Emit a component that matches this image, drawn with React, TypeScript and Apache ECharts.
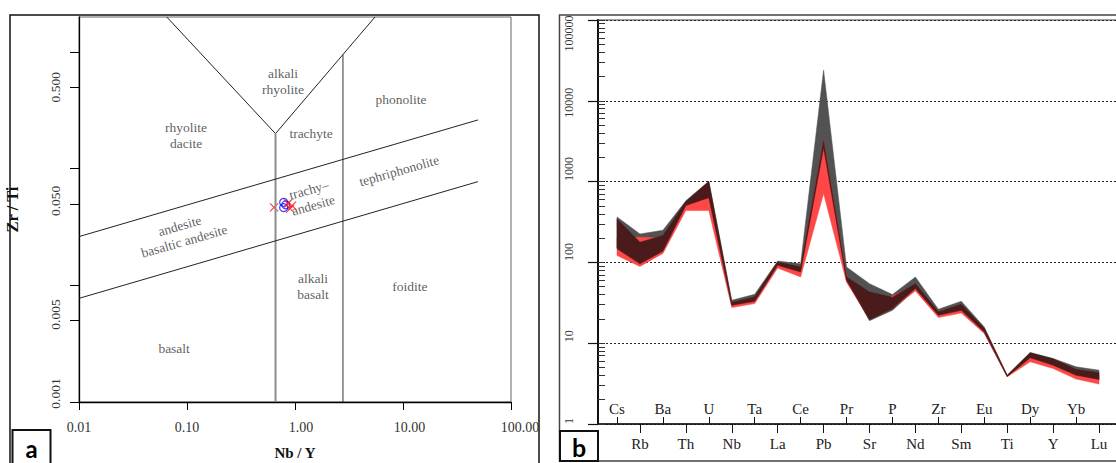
import React, { useEffect, useRef } from "react";
import * as echarts from "echarts";

// ---------- Panel a : Zr/Ti vs Nb/Y (Pearce 1996) ----------
const nbyTickValues = [0.01, 0.1, 1, 10, 100];
const zrtiTickValues = [0.001, 0.005, 0.01, 0.05, 0.1, 0.5, 1];
const zrtiLabelValues = [0.001, 0.005, 0.05, 0.5];

const apexLines = [[0.065, 2], [0.66, 0.2], [5.5, 2]];
const alkaliDivide = [[0.66, 0.2], [0.66, 0.001]];
const foiditeDivide = [[2.78, 0.952], [2.78, 0.001]];
const upperSlope = [[0.01, 0.0262], [49.4, 0.262]];
const lowerSlope = [[0.01, 0.00774], [49.4, 0.0775]];

const fieldNames = [
  "alkali\nrhyolite", "rhyolite\ndacite", "trachyte", "phonolite", "tephriphonolite",
  "trachy–\nandesite", "andesite\nbasaltic andesite", "alkali\nbasalt", "foidite", "basalt",
];
const fieldX = [0.774, 0.098, 1.41, 9.6, 9.2, 1.41, 0.09, 1.47, 11.6, 0.076];
const fieldY = [0.565, 0.191, 0.199, 0.389, 0.096, 0.0565, 0.0278, 0.0098, 0.0097, 0.0029];
const fieldRotate = [0, 0, 0, 0, 16, 16, 16, 0, 0, 0];

const redSamplesNbY = [0.64, 0.86, 0.9, 0.94];
const redSamplesZrTi = [0.0467, 0.0503, 0.0455, 0.0483];
const blueSamplesNbY = [0.785, 0.785, 0.82];
const blueSamplesZrTi = [0.0515, 0.0464, 0.049];

// ---------- Panel b : spider diagram ----------
const elements = ["Cs", "Rb", "Ba", "Th", "U", "Nb", "Ta", "La", "Ce", "Pb", "Pr",
  "Sr", "P", "Nd", "Zr", "Sm", "Eu", "Ti", "Dy", "Y", "Yb", "Lu"];
const spiderTickValues = [1, 10, 100, 1000, 10000, 100000];

const grayUpper = [365, 225, 250, 580, 1010, 34, 40.3, 104, 96, 24000, 87.6, 54.6, 40, 65.8, 26.3, 33, 15.9, 4.02, 7.68, 6.47, 5.1, 4.64];
const grayLower = [150, 95, 135, 480, 620, 29, 32, 90, 72, 1500, 60, 19, 25.5, 46, 21.5, 25, 13.5, 3.85, 6.5, 5.3, 3.95, 3.5];
const redUpper = [200, 205, 200, 550, 850, 30.5, 35, 98, 82, 3200, 64, 25, 38.4, 52, 23.5, 28, 14.8, 3.95, 6.9, 5.9, 4.5, 4.0];
const redLower = [122, 89, 129, 438, 438, 27.6, 30.9, 85, 66, 711, 57, 20, 27, 44.3, 20.8, 23.6, 13.2, 3.84, 5.88, 4.87, 3.6, 3.12];
const brownUpper = [345, 178, 215, 566, 1000, 32, 37.4, 101, 87.6, 3210, 65.8, 43, 37, 54.6, 24.4, 30.3, 15.3, 4.0, 7.6, 6.4, 4.73, 4.3];
const brownLower = [148, 96, 138, 505, 632, 29.5, 33, 92, 76, 2630, 60, 19.5, 26.8, 47.4, 22.2, 25.5, 13.8, 3.86, 6.6, 5.35, 4.02, 3.56];

const SERIF = "'Liberation Serif', 'Times New Roman', serif";

function richOf(pads: Record<string, number[]>, size: number, color: string) {
  const r: Record<string, any> = {};
  Object.keys(pads).forEach((k) => {
    r[k] = { padding: pads[k], fontFamily: SERIF, fontSize: size, color };
  });
  return r;
}

function buildOption() {
  const evenIdx = elements.map((_, i) => i).filter((i) => i % 2 === 0);
  const oddIdx = elements.map((_, i) => i).filter((i) => i % 2 === 1);
  const minorLog: number[] = [];
  for (let d = 0; d < 5; d++) for (let k = 1; k <= 9; k++) minorLog.push(k * Math.pow(10, d));
  minorLog.push(100000);

  const bands = [
    { upper: grayUpper, lower: grayLower, color: "#525252" },
    { upper: redUpper, lower: redLower, color: "#ff4747" },
    { upper: brownUpper, lower: brownLower, color: "#4b1b1b" },
  ];

  const bandSeries = bands.map((b) => ({
    type: "custom",
    xAxisIndex: 1,
    yAxisIndex: 1,
    silent: true,
    clip: false,
    data: elements.map((_, i) => [i, b.lower[i], b.upper[i]]),
    encode: { x: 0, y: [1, 2] },
    renderItem: (params: any, api: any) => {
      if (params.dataIndex !== 0) return null;
      const pts: number[][] = [];
      for (let i = 0; i < elements.length; i++) pts.push(api.coord([i, b.upper[i]]));
      for (let i = elements.length - 1; i >= 0; i--) pts.push(api.coord([i, b.lower[i]]));
      return { type: "polygon", shape: { points: pts }, style: { fill: b.color, stroke: b.color, lineWidth: 0.5 } };
    },
  }));

  const lineSeries = (data: number[][], color: string, width: number) => ({
    type: "line",
    xAxisIndex: 0,
    yAxisIndex: 0,
    data,
    symbol: "none",
    silent: true,
    lineStyle: { color, width },
  });

  const xLabelKey: Record<string, string> = { "0.01": "p0", "0.10": "p0", "1.00": "p12", "10.00": "p13", "100.00": "p18" };
  const yLabelKey: Record<string, string> = { "0.001": "p17", "0.005": "p12", "0.050": "p6", "0.500": "p0" };
  const sLabelKey: Record<string, string> = { "1": "u6", "10": "u14", "100": "u21", "1000": "u25", "10000": "d4", "100000": "d27" };

  return {
    animation: false,
    backgroundColor: "#ffffff",
    grid: [
      { left: 79, top: 17, width: 432, height: 385, show: true, borderColor: "#666", borderWidth: 1, backgroundColor: "transparent", outerBoundsMode: "none" },
      { left: 598, top: 20, width: 532, height: 404, show: true, borderColor: "#444", borderWidth: 1.2, backgroundColor: "transparent", outerBoundsMode: "none" },
    ],
    xAxis: [
      {
        gridIndex: 0, type: "log", logBase: 10, min: 0.01, max: 100, position: "bottom",
        axisLine: { show: true, onZero: false, lineStyle: { color: "#000", width: 1.3 } },
        axisTick: { show: true, length: 8, customValues: nbyTickValues, lineStyle: { color: "#000", width: 1 } },
        axisLabel: {
          show: true, margin: 18, customValues: nbyTickValues, showMinLabel: true, showMaxLabel: true,
          formatter: (v: number) => { const s = Number(v).toFixed(2); return "{" + (xLabelKey[s] || "p0") + "|" + s + "}"; },
          rich: richOf({ p0: [0, 0, 0, 0], p12: [0, 0, 0, 12], p13: [0, 0, 0, 13], p18: [0, 0, 0, 18] }, 14, "#333"),
        },
        splitLine: { show: false }, minorTick: { show: false },
        name: "Nb / Y", nameLocation: "middle", nameGap: 43,
        nameTextStyle: { fontFamily: SERIF, fontWeight: "bold", fontSize: 15, color: "#111" },
      },
      {
        gridIndex: 1, type: "value", min: -0.828, max: 22.35, position: "bottom",
        axisLine: { show: true, onZero: false, lineStyle: { color: "#111", width: 1.5 } },
        axisTick: { show: true, length: 9, customValues: oddIdx, lineStyle: { color: "#111", width: 1 } },
        axisLabel: {
          show: true, margin: 12, customValues: oddIdx,
          formatter: (v: number) => elements[Math.round(v)] || "",
          fontFamily: SERIF, fontSize: 15, color: "#222",
        },
        splitLine: { show: false },
      },
      {
        gridIndex: 1, type: "value", min: -0.828, max: 22.35, position: "bottom",
        axisLine: { show: false, onZero: false },
        axisTick: { show: true, inside: true, length: 7, customValues: evenIdx, lineStyle: { color: "#111", width: 1 } },
        axisLabel: {
          show: true, inside: true, margin: 8, customValues: evenIdx,
          formatter: (v: number) => elements[Math.round(v)] || "",
          fontFamily: SERIF, fontSize: 15, color: "#222",
        },
        splitLine: { show: false },
      },
    ],
    yAxis: [
      {
        gridIndex: 0, type: "log", logBase: 10, min: 0.001, max: 2, position: "left",
        axisLine: { show: true, onZero: false, lineStyle: { color: "#000", width: 1.3 } },
        axisTick: { show: true, length: 9, customValues: zrtiTickValues, lineStyle: { color: "#000", width: 1 } },
        axisLabel: {
          show: true, rotate: 90, margin: 17, customValues: zrtiLabelValues, showMinLabel: true, showMaxLabel: true,
          formatter: (v: number) => { const s = Number(v).toFixed(3); return "{" + (yLabelKey[s] || "p0") + "|" + s + "}"; },
          rich: richOf({ p0: [0, 0, 0, 0], p6: [0, 0, 0, 6], p12: [0, 0, 0, 12], p17: [0, 0, 0, 17] }, 13.5, "#333"),
        },
        splitLine: { show: false }, minorTick: { show: false },
        name: "Zr / Ti", nameLocation: "middle", nameGap: 58,
        nameTextStyle: { fontFamily: SERIF, fontWeight: "bold", fontSize: 16.5, color: "#111" },
      },
      {
        gridIndex: 1, type: "log", logBase: 10, min: 1, max: 100000, position: "left",
        axisLine: { show: true, onZero: false, lineStyle: { color: "#111", width: 2 } },
        axisTick: { show: true, length: 10, customValues: spiderTickValues, lineStyle: { color: "#111", width: 1.2 } },
        axisLabel: {
          show: true, rotate: 90, margin: 23, customValues: spiderTickValues, showMinLabel: true, showMaxLabel: true,
          formatter: (v: number) => { const s = String(Math.round(v)); return "{" + (sLabelKey[s] || "u6") + "|" + s + "}"; },
          rich: richOf({ u6: [0, 0, 0, 6], u14: [0, 0, 0, 14], u21: [0, 0, 0, 21], u25: [0, 0, 0, 25], d4: [0, 4, 0, 0], d27: [0, 27, 0, 0] }, 12, "#333"),
        },
        splitLine: { show: true, lineStyle: { color: "#222", width: 1, type: [2, 2] } },
        minorTick: { show: false },
      },
      {
        gridIndex: 1, type: "log", logBase: 10, min: 1, max: 100000, position: "left",
        axisLine: { show: false, onZero: false },
        axisTick: { show: true, inside: true, length: 7, customValues: minorLog, lineStyle: { color: "#333", width: 1 } },
        axisLabel: { show: false },
        splitLine: { show: false },
      },
    ],
    series: [
      lineSeries(apexLines, "#222", 1),
      lineSeries(alkaliDivide, "#8c8c8c", 2),
      lineSeries(foiditeDivide, "#333", 1),
      lineSeries(upperSlope, "#222", 1),
      lineSeries(lowerSlope, "#222", 1),
      {
        type: "scatter", xAxisIndex: 0, yAxisIndex: 0, silent: true, symbolSize: 0,
        data: fieldNames.map((n, i) => ({
          value: [fieldX[i], fieldY[i]], name: n,
          label: { rotate: fieldRotate[i] },
        })),
        label: {
          show: true, position: "inside", formatter: (p: any) => p.name,
          fontFamily: SERIF, fontSize: 13.5, color: "#333", lineHeight: 16, align: "center",
        },
      },
      {
        type: "scatter", xAxisIndex: 0, yAxisIndex: 0, silent: true,
        symbol: "circle", symbolSize: 8,
        itemStyle: { color: "transparent", borderColor: "#1010ff", borderWidth: 1.2 },
        data: blueSamplesNbY.map((x, i) => [x, blueSamplesZrTi[i]]),
      },
      {
        type: "scatter", xAxisIndex: 0, yAxisIndex: 0, silent: true,
        symbol: "path://M0 0L10 10M10 0L0 10", symbolSize: 8,
        itemStyle: { color: "none", borderColor: "#ff1010", borderWidth: 1.2 },
        data: redSamplesNbY.map((x, i) => [x, redSamplesZrTi[i]]),
      },
      ...bandSeries,
    ],
    graphic: [
      { type: "rect", shape: { x: 10, y: 15, width: 529, height: 470 }, style: { fill: "none", stroke: "#111", lineWidth: 1.5 }, silent: true },
      { type: "rect", shape: { x: 559.5, y: 15, width: 600, height: 446 }, style: { fill: "none", stroke: "#444", lineWidth: 1.5 }, silent: true },
      { type: "rect", shape: { x: 12.5, y: 430, width: 38, height: 40 }, style: { fill: "#fff", stroke: "#111", lineWidth: 2 }, silent: true, z: 10 },
      { type: "text", x: 31.5, y: 448, style: { text: "a", fontFamily: "Lato, 'Open Sans', sans-serif", fontWeight: "bold", fontSize: 24, fill: "#000", align: "center", verticalAlign: "middle" }, silent: true, z: 11 },
      { type: "rect", shape: { x: 560, y: 431, width: 38, height: 30 }, style: { fill: "#fff", stroke: "#111", lineWidth: 2 }, silent: true, z: 10 },
      { type: "text", x: 579, y: 447, style: { text: "b", fontFamily: "Lato, 'Open Sans', sans-serif", fontWeight: "bold", fontSize: 25, fill: "#000", align: "center", verticalAlign: "middle" }, silent: true, z: 11 },
    ],
  };
}

export default function App() {
  const ref = useRef<HTMLDivElement>(null);
  useEffect(() => {
    if (!ref.current) return;
    const chart = echarts.init(ref.current, undefined, { renderer: "svg" });
    chart.setOption(buildOption() as any);
    return () => chart.dispose();
  }, []);
  return (
    <div
      ref={ref}
      style={{ position: "fixed", left: 0, top: 0, width: 1116, height: 463, background: "#fff", overflow: "hidden" }}
    />
  );
}
